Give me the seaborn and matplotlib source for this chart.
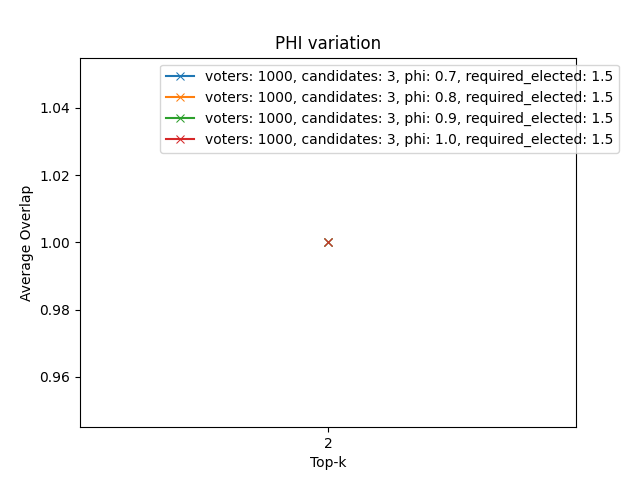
import pandas as pd
import matplotlib
matplotlib.use('Agg')
import matplotlib.pyplot as plt
import seaborn as sns

top_k = [2]
phis = [0.7, 0.8, 0.9, 1.0]
overlap = {0.7: [1.0], 0.8: [1.0], 0.9: [1.0], 1.0: [1.0]}

fig, ax = plt.subplots(figsize=(6.4, 4.8), dpi=100)
for phi in phis:
    df = pd.DataFrame({'k': top_k, 'overlap': overlap[phi]})
    label = f'voters: 1000, candidates: 3, phi: {phi}, required_elected: 1.5'
    sns.lineplot(x='k', y='overlap', data=df, marker='x', markeredgecolor=None,
                 label=label, ax=ax)

ax.set_xticks(top_k)
ax.set_title('PHI variation')
ax.set_xlabel('Top-k')
ax.set_ylabel('Average Overlap')
ax.legend(loc='upper right', bbox_to_anchor=(1.1, 1))
plt.savefig('out.png', dpi=100)
